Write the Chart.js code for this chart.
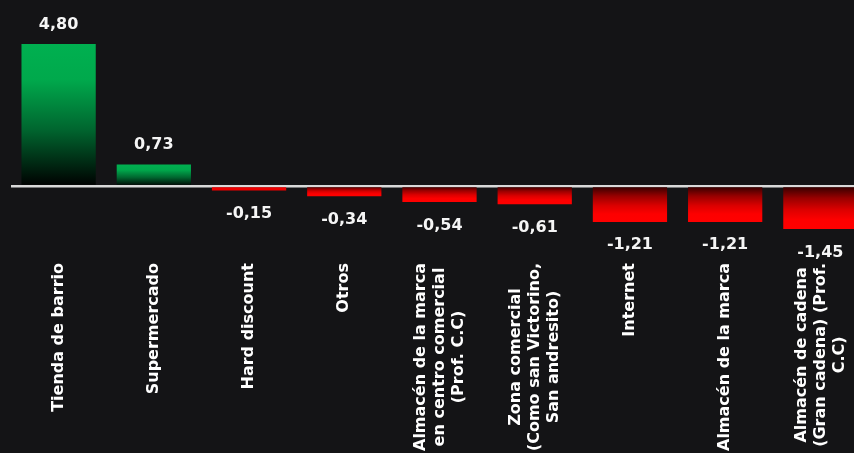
<!DOCTYPE html>
<html lang="es">
<head>
<meta charset="utf-8">
<title>Canales de compra</title>
<script src="https://cdn.jsdelivr.net/npm/chart.js@4.4.1/dist/chart.umd.min.js"></script>
<style>
  html, body {
    margin: 0;
    padding: 0;
    background: #141416;
    overflow: hidden;
  }
  #wrap {
    width: 854px;
    height: 453px;
    overflow: hidden;
  }
  canvas {
    display: block;
  }
</style>
</head>
<body>
<div id="wrap">
  <canvas id="channelChart" width="870" height="453"></canvas>
</div>
<script>
// Categories (one entry per bar, split into lines)
const categories = [
  ['Tienda de barrio'],
  ['Supermercado'],
  ['Hard discount'],
  ['Otros'],
  ['Almacén de la marca', 'en centro comercial', '(Prof. C.C)'],
  ['Zona comercial', '(Como san Victorino,', 'San andresito)'],
  ['Internet'],
  ['Almacén de la marca'],
  ['Almacén de cadena', '(Gran cadena) (Prof.', 'C.C)']
];

// Scores per channel
const scores = [4.80, 0.73, -0.15, -0.34, -0.54, -0.61, -1.21, -1.21, -1.45];

// Axis range
const yMin = -1.45;
const yMax = 4.80;

const labelFont = 'bold 16px "DejaVu Sans"';

// Format values with a decimal comma
function formatValue(v) {
  return v.toFixed(2).replace('.', ',');
}

// Vertical gradient per bar: green fading to black towards zero,
// red fading to dark towards zero
function barFill(context) {
  const chart = context.chart;
  if (!chart.chartArea) {
    return context.raw >= 0 ? '#00b050' : '#ff0000';
  }
  const yScale = chart.scales.y;
  const v = context.raw;
  const zero = yScale.getPixelForValue(0);
  const end = yScale.getPixelForValue(v);
  if (!isFinite(zero) || !isFinite(end) || Math.abs(end - zero) < 6) {
    return v >= 0 ? '#00b050' : '#ee0000';
  }
  const g = chart.ctx.createLinearGradient(0, end, 0, zero);
  if (v >= 0) {
    g.addColorStop(0, '#00b050');
    g.addColorStop(0.25, '#00a94c');
    g.addColorStop(0.6, '#00662f');
    g.addColorStop(1, '#000000');
  } else {
    g.addColorStop(0, '#ff0000');
    g.addColorStop(0.22, '#fd0000');
    g.addColorStop(0.45, '#dc0000');
    g.addColorStop(0.72, '#980000');
    g.addColorStop(1, '#2e0000');
  }
  return g;
}

// Value printed above positive bars and below negative ones
const barValueLabels = {
  id: 'barValueLabels',
  afterDatasetsDraw(chart) {
    const ctx = chart.ctx;
    const meta = chart.getDatasetMeta(0);
    ctx.save();
    ctx.font = labelFont;
    ctx.fillStyle = '#f5f5f5';
    ctx.textAlign = 'center';
    ctx.textBaseline = 'alphabetic';
    meta.data.forEach((bar, i) => {
      const v = scores[i];
      const y = v >= 0 ? bar.y - 15.5 : bar.y + 27.5;
      ctx.fillText(formatValue(v), bar.x, y);
    });
    ctx.restore();
  }
};

// Rotated category names, lines centred on each other
const categoryLabels = {
  id: 'categoryLabels',
  afterDraw(chart) {
    const ctx = chart.ctx;
    const xScale = chart.scales.x;
    const top = chart.chartArea.bottom + 34;
    const lineHeight = 19;
    ctx.save();
    ctx.font = labelFont;
    ctx.fillStyle = '#ffffff';
    ctx.textAlign = 'center';
    ctx.textBaseline = 'middle';
    chart.data.labels.forEach((lines, i) => {
      const x = xScale.getPixelForValue(i);
      const w = Math.max(...lines.map(l => ctx.measureText(l).width));
      ctx.save();
      ctx.translate(x, top + w / 2);
      ctx.rotate(-Math.PI / 2);
      lines.forEach((line, j) => {
        ctx.fillText(line, 0, (j - (lines.length - 1) / 2) * lineHeight);
      });
      ctx.restore();
    });
    ctx.restore();
  }
};

const ctx = document.getElementById('channelChart').getContext('2d');

const channelChart = new Chart(ctx, {
  type: 'bar',
  data: {
    labels: categories,
    datasets: [
      {
        data: scores,
        backgroundColor: barFill,
        borderWidth: 0,
        barPercentage: 0.78,
        categoryPercentage: 1
      }
    ]
  },
  options: {
    responsive: false,
    animation: false,
    layout: {
      padding: { left: 11, right: 2, top: 44, bottom: 224 }
    },
    scales: {
      x: {
        display: false
      },
      y: {
        min: yMin,
        max: yMax,
        z: 1,
        ticks: { display: false, stepSize: 1 },
        border: { display: false },
        grid: {
          drawTicks: false,
          color: c => (c.tick.value === 0 ? '#d9d9d9' : 'rgba(0,0,0,0)'),
          lineWidth: c => (c.tick.value === 0 ? 2.5 : 0)
        }
      }
    },
    plugins: {
      legend: { display: false },
      tooltip: { enabled: false }
    }
  },
  plugins: [barValueLabels, categoryLabels]
});
</script>
</body>
</html>
